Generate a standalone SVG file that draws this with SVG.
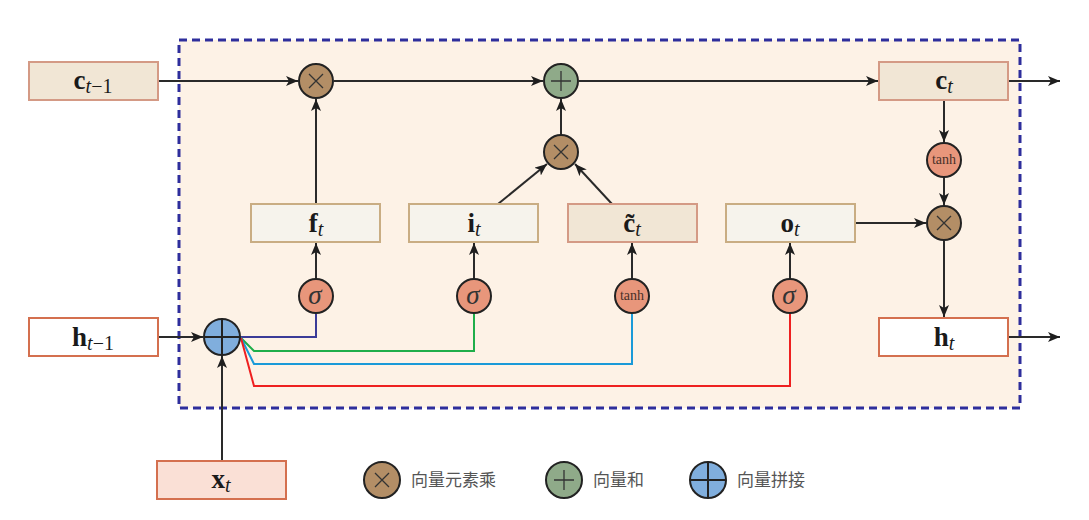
<svg xmlns="http://www.w3.org/2000/svg" width="1089" height="520" viewBox="0 0 1089 520">
<defs>
<marker id="ah" viewBox="0 0 12 10" refX="12" refY="5" markerWidth="12" markerHeight="10" markerUnits="userSpaceOnUse" orient="auto">
<path d="M0,0 L12,5 L0,10 L3,5 Z" fill="#1e1e1e"/>
</marker>
<style>
.lnk{stroke:#2a2a2a;stroke-width:2;fill:none}
.fan{stroke-width:2;fill:none}
.mul{fill:#b38e66;stroke:#222;stroke-width:2}
.add{fill:#8faa89;stroke:#222;stroke-width:2}
.cat{fill:#80aedd;stroke:#222;stroke-width:2}
.act{fill:#e8967b;stroke:#222;stroke-width:2}
.sym{stroke:#333;stroke-width:1.3;fill:none}
.gate{fill:#f6f3ec;stroke:#c9ad83;stroke-width:2}
.cell{fill:#f1e6d5;stroke:#d49a85;stroke-width:2}
.hbox{fill:#ffffff;stroke:#d4704f;stroke-width:2}
.xbox{fill:#fae0d6;stroke:#d4704f;stroke-width:2}
.m{font-family:"Liberation Serif",serif;font-weight:bold;font-size:27px;fill:#1a1a1a}
.s{font-family:"Liberation Serif",serif;font-style:italic;font-weight:normal;font-size:20px;fill:#1a1a1a}
.u{font-family:"Liberation Serif",serif;font-style:normal;font-weight:normal;font-size:20px;fill:#1a1a1a}
.sig{font-family:"Liberation Serif",serif;font-style:italic;font-size:27px;fill:#333}
.tanh{font-family:"Liberation Serif",serif;font-size:14px;fill:#4a3028}
.leg{font-family:"Noto Sans CJK SC",sans-serif;font-size:17px;fill:#555}
</style>
</defs>
<rect x="0" y="0" width="1089" height="520" fill="#ffffff"/>
<rect id="cell-boundary" x="179" y="40" width="841" height="368" fill="#fdf2e6" stroke="#2e2e9c" stroke-width="3" stroke-dasharray="8,5"/>

<g id="connectors">
<line class="lnk" x1="158" y1="81" x2="298" y2="81" marker-end="url(#ah)"/>
<line class="lnk" x1="334" y1="81" x2="543" y2="81" marker-end="url(#ah)"/>
<line class="lnk" x1="579" y1="81" x2="878" y2="81" marker-end="url(#ah)"/>
<line class="lnk" x1="1009" y1="81" x2="1060" y2="81" marker-end="url(#ah)"/>
<line class="lnk" x1="316" y1="204" x2="316" y2="99" marker-end="url(#ah)"/>
<line class="lnk" x1="561" y1="134" x2="561" y2="99" marker-end="url(#ah)"/>
<line class="lnk" x1="498" y1="204" x2="547" y2="164" marker-end="url(#ah)"/>
<line class="lnk" x1="612" y1="204" x2="575" y2="164" marker-end="url(#ah)"/>
<line class="lnk" x1="316" y1="278" x2="316" y2="243" marker-end="url(#ah)"/>
<line class="lnk" x1="474" y1="278" x2="474" y2="243" marker-end="url(#ah)"/>
<line class="lnk" x1="632" y1="278" x2="632" y2="243" marker-end="url(#ah)"/>
<line class="lnk" x1="790" y1="278" x2="790" y2="243" marker-end="url(#ah)"/>
<line class="lnk" x1="944" y1="100" x2="944" y2="142" marker-end="url(#ah)"/>
<line class="lnk" x1="944" y1="177" x2="944" y2="205" marker-end="url(#ah)"/>
<line class="lnk" x1="855" y1="223" x2="926" y2="223" marker-end="url(#ah)"/>
<line class="lnk" x1="944" y1="241" x2="944" y2="317" marker-end="url(#ah)"/>
<line class="lnk" x1="1009" y1="337" x2="1060" y2="337" marker-end="url(#ah)"/>
<line class="lnk" x1="158" y1="337" x2="203" y2="337" marker-end="url(#ah)"/>
<line class="lnk" x1="222" y1="461" x2="222" y2="356" marker-end="url(#ah)"/>
<polyline class="fan" stroke="#3b3b98" points="240,337 316,337 316,314"/>
<polyline class="fan" stroke="#1fae4a" points="241,338 254,351 474,351 474,314"/>
<polyline class="fan" stroke="#1a9ad8" points="241,338 254,364 632,364 632,314"/>
<polyline class="fan" stroke="#ee2020" points="241,338 254,386 790,386 790,314"/>
</g>

<g id="c-prev"><rect class="cell" x="29" y="62" width="129" height="38"/>
<text x="93" y="89" text-anchor="middle"><tspan class="m">c</tspan><tspan class="s" dy="4">t</tspan><tspan class="u">−1</tspan></text></g>
<g id="h-prev"><rect class="hbox" x="29" y="318" width="129" height="38"/>
<text x="93" y="346" text-anchor="middle"><tspan class="m">h</tspan><tspan class="s" dy="4">t</tspan><tspan class="u">−1</tspan></text></g>
<g id="x-t"><rect class="xbox" x="157" y="461" width="129" height="38"/>
<text x="221" y="488" text-anchor="middle"><tspan class="m">x</tspan><tspan class="s" dy="4">t</tspan></text></g>
<g id="c-t"><rect class="cell" x="879" y="62" width="129" height="38"/>
<text x="944" y="89" text-anchor="middle"><tspan class="m">c</tspan><tspan class="s" dy="4">t</tspan></text></g>
<g id="h-t"><rect class="hbox" x="879" y="318" width="129" height="38"/>
<text x="944" y="346" text-anchor="middle"><tspan class="m">h</tspan><tspan class="s" dy="4">t</tspan></text></g>
<g id="f-t"><rect class="gate" x="251" y="204" width="129" height="38"/>
<text x="316" y="232" text-anchor="middle"><tspan class="m">f</tspan><tspan class="s" dy="4">t</tspan></text></g>
<g id="i-t"><rect class="gate" x="409" y="204" width="129" height="38"/>
<text x="474" y="232" text-anchor="middle"><tspan class="m">i</tspan><tspan class="s" dy="4">t</tspan></text></g>
<g id="c-tilde"><rect class="cell" x="568" y="204" width="129" height="38"/>
<text x="632" y="232" text-anchor="middle"><tspan class="m">c̃</tspan><tspan class="s" dy="4">t</tspan></text></g>
<g id="o-t"><rect class="gate" x="726" y="204" width="129" height="38"/>
<text x="790" y="232" text-anchor="middle"><tspan class="m">o</tspan><tspan class="s" dy="4">t</tspan></text></g>

<g id="mul-forget"><circle class="mul" cx="316" cy="81" r="17"/><path class="sym" d="M309,74 L323,88 M323,74 L309,88"/></g>
<g id="add-cell"><circle class="add" cx="561" cy="81" r="17"/><path class="sym" d="M561,71 V91 M551,81 H571"/></g>
<g id="mul-input"><circle class="mul" cx="561" cy="152" r="17"/><path class="sym" d="M554,145 L568,159 M568,145 L554,159"/></g>
<g id="tanh-out"><circle class="act" cx="944" cy="160" r="17"/><text class="tanh" x="944" y="164" text-anchor="middle">tanh</text></g>
<g id="mul-out"><circle class="mul" cx="944" cy="223" r="17"/><path class="sym" d="M937,216 L951,230 M951,216 L937,230"/></g>
<g id="sig-f"><circle class="act" cx="316" cy="296" r="17"/><text class="sig" x="315" y="304" text-anchor="middle">σ</text></g>
<g id="sig-i"><circle class="act" cx="474" cy="296" r="17"/><text class="sig" x="473" y="304" text-anchor="middle">σ</text></g>
<g id="tanh-c"><circle class="act" cx="632" cy="296" r="17"/><text class="tanh" x="632" y="300" text-anchor="middle">tanh</text></g>
<g id="sig-o"><circle class="act" cx="790" cy="296" r="17"/><text class="sig" x="789" y="304" text-anchor="middle">σ</text></g>
<g id="concat"><circle class="cat" cx="222" cy="337" r="18"/><path d="M222,319 V355 M204,337 H240" stroke="#222" stroke-width="2"/></g>

<g id="legend">
<circle class="mul" cx="382" cy="480" r="18"/><path class="sym" d="M375,473 L389,487 M389,473 L375,487"/>
<text class="leg" x="411" y="486">向量元素乘</text>
<circle class="add" cx="564" cy="480" r="18"/><path class="sym" d="M564,470 V490 M554,480 H574"/>
<text class="leg" x="593" y="486">向量和</text>
<circle class="cat" cx="708" cy="480" r="18"/><path d="M708,462 V498 M690,480 H726" stroke="#222" stroke-width="2"/>
<text class="leg" x="737" y="486">向量拼接</text>
</g>
</svg>
